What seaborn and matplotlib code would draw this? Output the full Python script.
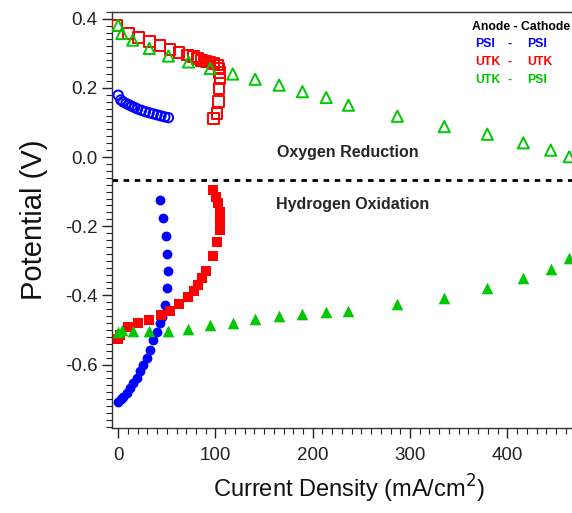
import numpy as np
import pandas as pd
import matplotlib
matplotlib.use("Agg")
import matplotlib.pyplot as plt
import seaborn as sns
from matplotlib.ticker import MultipleLocator

# Data (x = current density mA/cm2, y = potential V)

# PSI - PSI
psi_cat_x = [0, 2.7, 5, 8, 11, 14, 17, 20, 24, 28, 32, 36, 40, 44, 48, 51.7]
psi_cat_y = [0.179, 0.165, 0.160, 0.155, 0.151, 0.147, 0.143, 0.139, 0.135, 0.131,
             0.128, 0.125, 0.122, 0.119, 0.116, 0.114]
psi_an_x = [43.2, 45.9, 49.0, 50.7, 51.7, 50.7, 48.3, 44.9, 43.2, 39.8, 36.3, 32.9,
            29.5, 26.0, 22.6, 19.2, 15.7, 12.3, 8.9, 5.5, 3.0, 0.3]
psi_an_y = [-0.124, -0.177, -0.228, -0.280, -0.329, -0.379, -0.428, -0.462, -0.481,
            -0.505, -0.529, -0.558, -0.582, -0.601, -0.620, -0.640, -0.654, -0.668,
            -0.681, -0.693, -0.700, -0.707]

# UTK - UTK
utk_cat_x = [-1, 10.6, 20.8, 32, 43.2, 53.4, 62.7, 71.2, 77.4, 81.8, 85.9, 90.4, 94.6,
             98.7, 102.5, 103.8, 104.2, 104.8, 103.8, 103.1, 101.4, 98.0]
utk_cat_y = [0.381, 0.357, 0.346, 0.334, 0.322, 0.311, 0.302, 0.295, 0.290, 0.285,
             0.280, 0.277, 0.275, 0.271, 0.266, 0.256, 0.245, 0.227, 0.199, 0.160,
             0.126, 0.112]
utk_an_x = [98.0, 100.7, 103.0, 104.8, 104.8, 104.8, 102.0, 98.0, 90.4, 85.9, 82.4,
            78.4, 72.3, 63.0, 53.4, 44.2, 32.2, 20.2, 10.0, 2.0, 0.3]
utk_an_y = [-0.095, -0.115, -0.134, -0.158, -0.182, -0.211, -0.245, -0.286, -0.329,
            -0.351, -0.370, -0.386, -0.406, -0.426, -0.444, -0.457, -0.471, -0.481,
            -0.492, -0.514, -0.527]

# UTK - PSI
mix_x = [0, 3.8, 15, 32, 51.7, 72.3, 94.6, 117.8, 140.8, 165.5, 189.4, 213.8, 236.7,
         287, 335.2, 379.4, 416.5, 444.6, 463.7, 474]
mix_cat_y = [0.381, 0.357, 0.338, 0.314, 0.292, 0.275, 0.256, 0.240, 0.225, 0.208,
             0.189, 0.172, 0.150, 0.118, 0.088, 0.066, 0.041, 0.020, 0.001, -0.038]
mix_an_y = [-0.505, -0.500, -0.503, -0.503, -0.503, -0.498, -0.487, -0.479, -0.468,
            -0.460, -0.455, -0.447, -0.444, -0.426, -0.407, -0.380, -0.351, -0.324,
            -0.293, -0.225]

# legend rows: anode, cathode
legend_rows = [('PSI', 'PSI'), ('UTK', 'UTK'), ('UTK', 'PSI')]

blue = '#0000ff'
red = '#ff0000'
green = '#00c800'

sns.set_style("ticks")
plt.rcParams['font.family'] = ['Liberation Sans', 'DejaVu Sans']

fig = plt.figure(figsize=(5.72, 5.13), dpi=100)
ax = fig.add_axes([0.196, 0.166, 0.827, 0.811])

# open markers = cathode, filled markers = anode
sns.scatterplot(x=psi_cat_x, y=psi_cat_y, marker='o', s=45, facecolor='none',
                edgecolor=blue, linewidth=1.4, ax=ax, zorder=3)
sns.scatterplot(x=utk_cat_x, y=utk_cat_y, marker='s', s=58, facecolor='none',
                edgecolor=red, linewidth=1.4, ax=ax, zorder=3)
sns.scatterplot(x=mix_x, y=mix_cat_y, marker='^', s=65, facecolor='none',
                edgecolor=green, linewidth=1.4, ax=ax, zorder=3)

sns.scatterplot(x=psi_an_x, y=psi_an_y, marker='o', s=50, color=blue,
                edgecolor=blue, linewidth=0, ax=ax, zorder=3)
sns.scatterplot(x=utk_an_x, y=utk_an_y, marker='s', s=58, color=red,
                edgecolor=red, linewidth=0, ax=ax, zorder=3)
sns.scatterplot(x=mix_x, y=mix_an_y, marker='^', s=70, color=green,
                edgecolor=green, linewidth=0, ax=ax, zorder=3)

ax.axhline(-0.066, color='black', linestyle=(0, (2, 2)), linewidth=2)

ax.text(236, 0.012, 'Oxygen Reduction', fontsize=11.5, fontweight='bold',
        ha='center', va='center')
ax.text(241, -0.136, 'Hydrogen Oxidation', fontsize=11.5, fontweight='bold',
        ha='center', va='center')

# legend-like text block
ax.text(363.5, 0.377, 'Anode - Cathode', fontsize=8.8, fontweight='bold', color='black',
        ha='left', va='center')
for (a, c), col, yy in zip(legend_rows, [blue, red, green], [0.327, 0.274, 0.223]):
    ax.text(367, yy, a, fontsize=8.8, fontweight='bold', color=col, ha='left', va='center')
    ax.text(400, yy, '-', fontsize=8.8, fontweight='bold', color=col, ha='left', va='center')
    ax.text(420, yy, c, fontsize=8.8, fontweight='bold', color=col, ha='left', va='center')

ax.set_xlim(-6.2, 480)
ax.set_ylim(-0.783, 0.42)

ax.xaxis.set_major_locator(MultipleLocator(100))
ax.xaxis.set_minor_locator(MultipleLocator(10))
ax.yaxis.set_minor_locator(MultipleLocator(0.02))
ax.set_yticks([0.4, 0.2, 0.0, -0.2, -0.4, -0.6])
ax.set_yticklabels(['0.4', '0.2', '0.0', '-0.2', '-0.4', '-0.6'])

ax.tick_params(which='major', length=7, width=1, labelsize=13.5, colors='#222222',
               direction='out')
ax.tick_params(axis='x', which='major', pad=7)
ax.tick_params(which='minor', length=4, width=0.8, direction='out', colors='#222222')

for side in ['left', 'bottom', 'top']:
    ax.spines[side].set_color('#333333')
    ax.spines[side].set_linewidth(1)
ax.spines['right'].set_visible(False)

ax.set_xlabel('Current Density (mA/cm$^2$)', fontsize=17, color='#111111', labelpad=6)
ax.set_ylabel('Potential (V)', fontsize=21, color='#111111', labelpad=12)

fig.savefig('out.png', dpi=100)
